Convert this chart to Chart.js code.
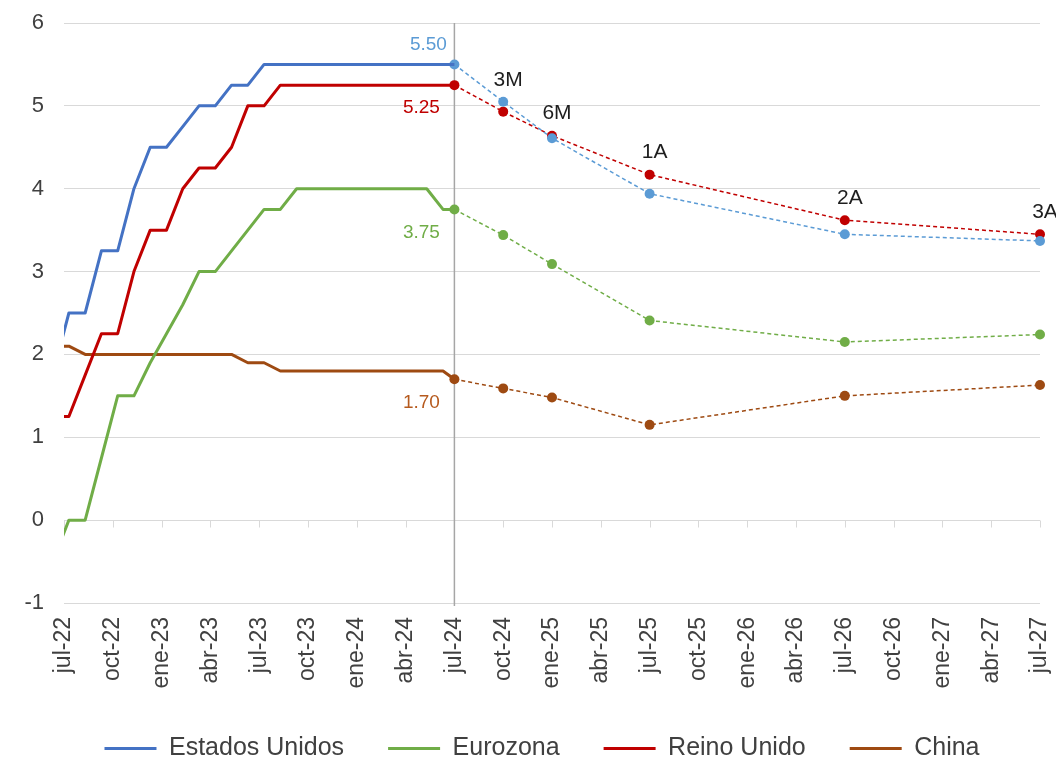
<!DOCTYPE html>
<html lang="es">
<head>
<meta charset="UTF-8" />
<title>Tipos oficiales: historia y previsión</title>
<script src="https://cdn.jsdelivr.net/npm/chart.js@4.4.1/dist/chart.umd.min.js"></script>
<style>
  html, body { margin: 0; padding: 0; background: #fff; }
</style>
</head>
<body>
<canvas id="ratesChart" width="1056" height="759"></canvas>
<script>
// x axis = months counted from jul-22
// monthly history jun-22 .. jun-24, dated a little after the month start
const histStart = -1;
const histShift = 0.3;
const usHist = [1.75, 2.5, 2.5, 3.25, 3.25, 4.0, 4.5, 4.5, 4.75, 5.0, 5.0, 5.25, 5.25,
  5.5, 5.5, 5.5, 5.5, 5.5, 5.5, 5.5, 5.5, 5.5, 5.5, 5.5, 5.5];
const euHist = [-0.5, 0, 0, 0.75, 1.5, 1.5, 1.9, 2.25, 2.6, 3.0, 3.0, 3.25, 3.5,
  3.75, 3.75, 4.0, 4.0, 4.0, 4.0, 4.0, 4.0, 4.0, 4.0, 4.0, 3.75];
const ukHist = [1.25, 1.25, 1.75, 2.25, 2.25, 3.0, 3.5, 3.5, 4.0, 4.25, 4.25, 4.5, 5.0,
  5.0, 5.25, 5.25, 5.25, 5.25, 5.25, 5.25, 5.25, 5.25, 5.25, 5.25, 5.25];
const cnHist = [2.1, 2.1, 2.0, 2.0, 2.0, 2.0, 2.0, 2.0, 2.0, 2.0, 2.0, 2.0, 1.9,
  1.9, 1.8, 1.8, 1.8, 1.8, 1.8, 1.8, 1.8, 1.8, 1.8, 1.8, 1.8];

// market-implied path: today, 3 months, 6 months, 1, 2 and 3 years
const horizonX = [24, 27, 30, 36, 48, 60];
const horizonLabels = ["", "3M", "6M", "1A", "2A", "3A"];
const usFcst = [5.50, 5.05, 4.61, 3.94, 3.45, 3.37];
const euFcst = [3.75, 3.44, 3.09, 2.41, 2.15, 2.24];
const ukFcst = [5.25, 4.93, 4.64, 4.17, 3.62, 3.45];
const cnFcst = [1.70, 1.59, 1.48, 1.15, 1.50, 1.63];

const tickLabels = ["jul-22", "oct-22", "ene-23", "abr-23", "jul-23", "oct-23", "ene-24",
  "abr-24", "jul-24", "oct-24", "ene-25", "abr-25", "jul-25", "oct-25", "ene-26",
  "abr-26", "jul-26", "oct-26", "ene-27", "abr-27", "jul-27"];

const FONT = "'Liberation Sans', Arial, sans-serif";

function histPoints(values, today) {
  const pts = values.map((v, i) => ({ x: histStart + i + histShift, y: v }));
  pts.push({ x: horizonX[0], y: today });
  return pts;
}

function fcstPoints(values) {
  return values.map((v, i) => ({ x: horizonX[i], y: v }));
}

function histSet(label, values, fcst, color) {
  return {
    label: label,
    data: histPoints(values, fcst[0]),
    borderColor: color,
    backgroundColor: color,
    borderWidth: 3,
    borderJoinStyle: "round",
    pointRadius: 0,
    pointStyle: "line",
    tension: 0
  };
}

function fcstSet(label, values, color, textColor, above) {
  return {
    label: label + " (previsión)",
    data: fcstPoints(values),
    borderColor: color,
    backgroundColor: color,
    borderWidth: 1.5,
    borderDash: [4, 3],
    pointRadius: 5,
    pointBorderWidth: 0,
    pointBackgroundColor: color,
    clip: false,
    valueColor: textColor,
    valueAbove: above
  };
}

const annotations = {
  id: "annotations",
  afterLayout(chart) {
    // legend sits a bit right of the plot centre in the original
    chart.legend.left += 22;
    chart.legend.right += 22;
  },
  beforeDatasetsDraw(chart) {
    const { ctx, chartArea, scales: { x, y } } = chart;
    ctx.save();
    // little tick marks where the horizontal axis crosses zero
    const y0 = Math.round(y.getPixelForValue(0)) + 0.5;
    ctx.strokeStyle = "#d9d9d9";
    ctx.lineWidth = 1;
    x.ticks.forEach((t) => {
      const px = Math.round(x.getPixelForValue(t.value)) + 0.5;
      ctx.beginPath();
      ctx.moveTo(px, y0);
      ctx.lineTo(px, y0 + 7);
      ctx.stroke();
    });
    // today marker
    const xv = x.getPixelForValue(horizonX[0]);
    ctx.strokeStyle = "#a6a6a6";
    ctx.lineWidth = 1.5;
    ctx.beginPath();
    ctx.moveTo(xv, chartArea.top);
    ctx.lineTo(xv, chartArea.bottom + 3);
    ctx.stroke();
    ctx.restore();
  },
  afterDatasetsDraw(chart) {
    const ctx = chart.ctx;
    ctx.save();
    ctx.textAlign = "center";
    ctx.textBaseline = "middle";

    const fcstMetas = [];
    chart.data.datasets.forEach((ds, i) => {
      if (ds.valueColor === undefined) return;
      const meta = chart.getDatasetMeta(i);
      fcstMetas.push(meta);
      const p = meta.data[0];
      ctx.font = "19px " + FONT;
      ctx.fillStyle = ds.valueColor;
      if (ds.valueAbove) {
        ctx.fillText(ds.data[0].y.toFixed(2), p.x - 26, p.y - 20);
      } else {
        ctx.fillText(ds.data[0].y.toFixed(2), p.x - 33, p.y + 23);
      }
    });

    ctx.font = "21px " + FONT;
    ctx.fillStyle = "#1e1e1e";
    horizonLabels.forEach((txt, j) => {
      if (!txt) return;
      const top = Math.min(...fcstMetas.map((m) => m.data[j].y));
      ctx.fillText(txt, fcstMetas[0].data[j].x + 5, top - 22);
    });
    ctx.restore();
  }
};

new Chart(document.getElementById("ratesChart"), {
  type: "line",
  data: {
    datasets: [
      histSet("Estados Unidos", usHist, usFcst, "#4472c4"),
      histSet("Eurozona", euHist, euFcst, "#70ad47"),
      histSet("Reino Unido", ukHist, ukFcst, "#c00000"),
      histSet("China", cnHist, cnFcst, "#9e4a12"),
      fcstSet("Estados Unidos", usFcst, "#5b9bd5", "#5b9bd5", true),
      fcstSet("Eurozona", euFcst, "#70ad47", "#70ad47", false),
      fcstSet("Reino Unido", ukFcst, "#c00000", "#c00000", false),
      fcstSet("China", cnFcst, "#9e4a12", "#b65a1e", false)
    ]
  },
  options: {
    responsive: false,
    animation: false,
    layout: { padding: { top: 23, right: 16, bottom: -12, left: 0 } },
    scales: {
      x: {
        type: "linear",
        min: 0,
        max: 60,
        grid: { display: false, drawTicks: false },
        border: { display: false },
        ticks: {
          stepSize: 3,
          autoSkip: false,
          minRotation: 90,
          maxRotation: 90,
          padding: 14,
          color: "#404040",
          font: { family: FONT, size: 23 },
          callback: (v) => tickLabels[v / 3]
        },
        afterFit: (s) => {
          s.height = 89;
          s.paddingLeft = 0;
          s.paddingRight = 0;
        }
      },
      y: {
        min: -1,
        max: 6,
        grid: { color: "#d9d9d9", drawTicks: false },
        border: { display: false },
        ticks: {
          stepSize: 1,
          padding: 20,
          color: "#404040",
          font: { family: FONT, size: 22 }
        },
        afterFit: (s) => {
          s.width = 64;
          s.paddingTop = 0;
          s.paddingBottom = 0;
        }
      }
    },
    plugins: {
      legend: {
        position: "bottom",
        labels: {
          usePointStyle: true,
          pointStyleWidth: 52,
          padding: 44,
          color: "#404040",
          font: { family: FONT, size: 25 },
          filter: (item) => item.datasetIndex < 4
        }
      },
      tooltip: { enabled: false }
    }
  },
  plugins: [annotations]
});
</script>
</body>
</html>
